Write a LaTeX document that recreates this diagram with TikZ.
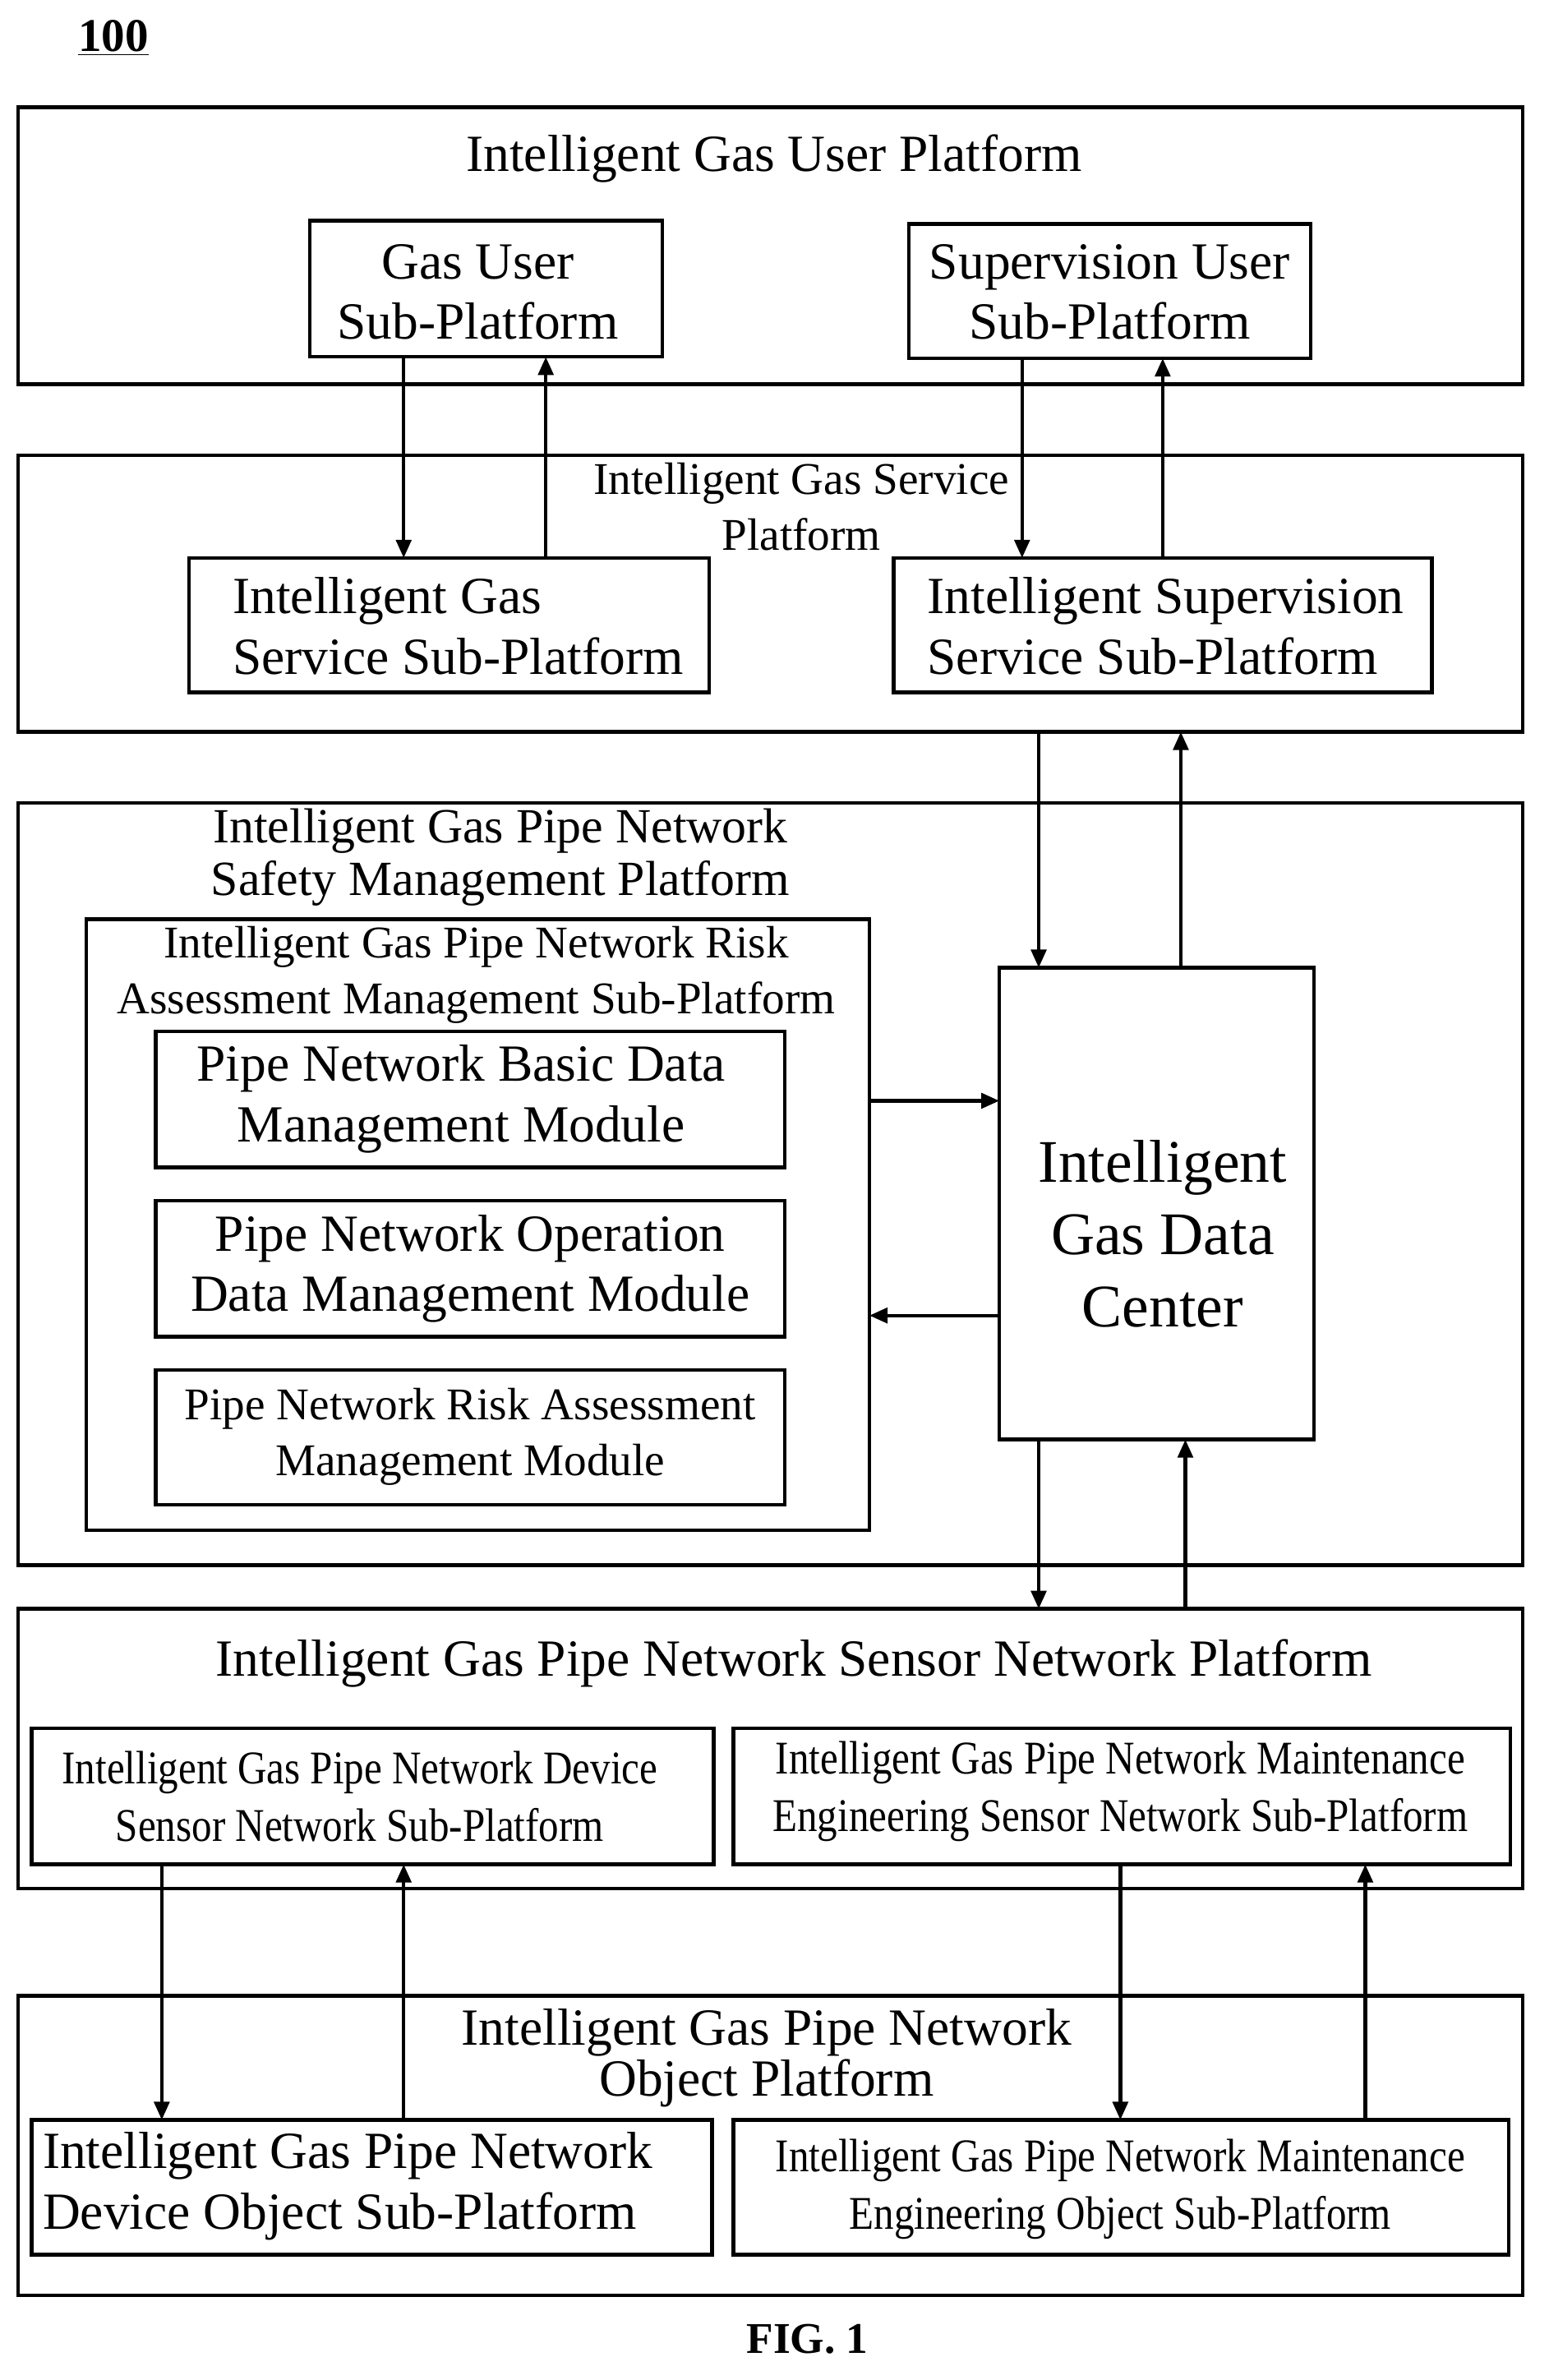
\documentclass[tikz,border=0pt]{standalone}
\usepackage{fontspec}
\setmainfont{Liberation Serif}
\newfontfamily\condfont[FakeStretch=0.86]{Liberation Serif}
\usetikzlibrary{arrows.meta}
\begin{document}
\begin{tikzpicture}[x=1pt,y=-1pt,line width=2.4pt,
  bx/.style={draw},
  ar/.style={-{Triangle[length=12pt,width=10pt]}},
  tl/.style={align=center,font=\fontsize{34.5}{40}\selectfont},
  ts/.style={align=center,font=\fontsize{30}{37}\selectfont},
  tc/.style={align=center,font=\condfont\fontsize{31}{38}\selectfont}]
\useasboundingbox (0,0) rectangle (1024,1574);
\node[font=\bfseries\fontsize{31}{34}\selectfont] (n100) at (75,25) {\underline{100}};
% box 1
\draw[bx] (12,71) rectangle (1007,254);
\node[tl] (t1) at (512,105) {Intelligent Gas User Platform};
\draw[bx] (205,146) rectangle (438,236); \node[tl] (gu) at (316,193) {Gas User\\Sub-Platform};
\draw[bx] (601,148) rectangle (867,237); \node[tl] (su) at (734,193) {Supervision User\\Sub-Platform};
% box 2
\draw[bx] (12,301) rectangle (1007,484);
\node[ts] (t2) at (530,335) {Intelligent Gas Service\\Platform};
\draw[bx] (125,369) rectangle (469,458); \node[tl,align=left] (gs) at (303,414) {Intelligent Gas\\Service Sub-Platform};
\draw[bx] (591,369) rectangle (947,458); \node[tl,align=left] (ss) at (771,414) {Intelligent Supervision\\Service Sub-Platform};
\coordinate (a1) at (267,236); \coordinate (a2) at (267,369); \draw[ar] (a1)--(a2);
\coordinate (b1) at (361,369); \coordinate (b2) at (361,236); \draw[ar] (b1)--(b2);
\coordinate (c1) at (676,237); \coordinate (c2) at (676,369); \draw[ar] (c1)--(c2);
\coordinate (d1) at (769,369); \coordinate (d2) at (769,237); \draw[ar] (d1)--(d2);
% box 3
\draw[bx] (12,531) rectangle (1007,1035);
\node[tl,font=\fontsize{32.5}{35}\selectfont] (t3) at (331,567) {Intelligent Gas Pipe Network\\Safety Management Platform};
\draw[bx] (57,608) rectangle (575,1012);
\node[ts] (t3s) at (315,645) {Intelligent Gas Pipe Network Risk\\Assessment Management Sub-Platform};
\draw[bx] (103,682) rectangle (519,772); \node[tl] (m1) at (305,727) {Pipe Network Basic Data\\Management Module};
\draw[bx] (103,794) rectangle (519,884); \node[tl] (m2) at (311,839) {Pipe Network Operation\\Data Management Module};
\draw[bx] (103,906) rectangle (519,995); \node[ts] (m3) at (311,950) {Pipe Network Risk Assessment\\Management Module};
\draw[bx] (661,640) rectangle (869,952); \node[align=center,font=\fontsize{40}{48}\selectfont] (dc) at (769,816) {Intelligent\\Gas Data\\Center};
\coordinate (e1) at (687,484); \coordinate (e2) at (687,640); \draw[ar] (e1)--(e2);
\coordinate (f1) at (781,640); \coordinate (f2) at (781,484); \draw[ar] (f1)--(f2);
\coordinate (g1) at (575,728); \coordinate (g2) at (661,728); \draw[ar] (g1)--(g2);
\coordinate (h1) at (661,870); \coordinate (h2) at (575,870); \draw[ar] (h1)--(h2);
\coordinate (i1) at (687,952); \coordinate (i2) at (687,1064); \draw[ar] (i1)--(i2);
\coordinate (j1) at (784,1064); \coordinate (j2) at (784,952); \draw[ar] (j1)--(j2);
% box 4
\draw[bx] (12,1064) rectangle (1007,1249);
\node[tl] (t4) at (525,1100) {Intelligent Gas Pipe Network Sensor Network Platform};
\draw[bx] (21,1143) rectangle (472,1233); \node[tc] (s1) at (238,1188) {Intelligent Gas Pipe Network Device\\Sensor Network Sub-Platform};
\draw[bx] (485,1143) rectangle (999,1233); \node[tc] (s2) at (741,1185) {Intelligent Gas Pipe Network Maintenance\\Engineering Sensor Network Sub-Platform};
% box 5
\draw[bx] (12,1320) rectangle (1007,1518);
\node[tl,font=\fontsize{34.5}{34}\selectfont] (t5) at (507,1361) {Intelligent Gas Pipe Network\\Object Platform};
\draw[bx] (21,1402) rectangle (471,1491); \node[tl,align=left] (o1) at (230,1446) {Intelligent Gas Pipe Network\\Device Object Sub-Platform};
\draw[bx] (485,1402) rectangle (998,1491); \node[tc] (o2) at (741,1448) {Intelligent Gas Pipe Network Maintenance\\Engineering Object Sub-Platform};
\coordinate (k1) at (107,1233); \coordinate (k2) at (107,1402); \draw[ar] (k1)--(k2);
\coordinate (l1) at (267,1402); \coordinate (l2) at (267,1233); \draw[ar] (l1)--(l2);
\coordinate (m1a) at (741,1233); \coordinate (m2a) at (741,1402); \draw[ar] (m1a)--(m2a);
\coordinate (n1) at (903,1402); \coordinate (n2) at (903,1233); \draw[ar] (n1)--(n2);
\node[font=\bfseries\fontsize{29}{32}\selectfont] (fig) at (534,1547) {FIG. 1};
\end{tikzpicture}
\end{document}
